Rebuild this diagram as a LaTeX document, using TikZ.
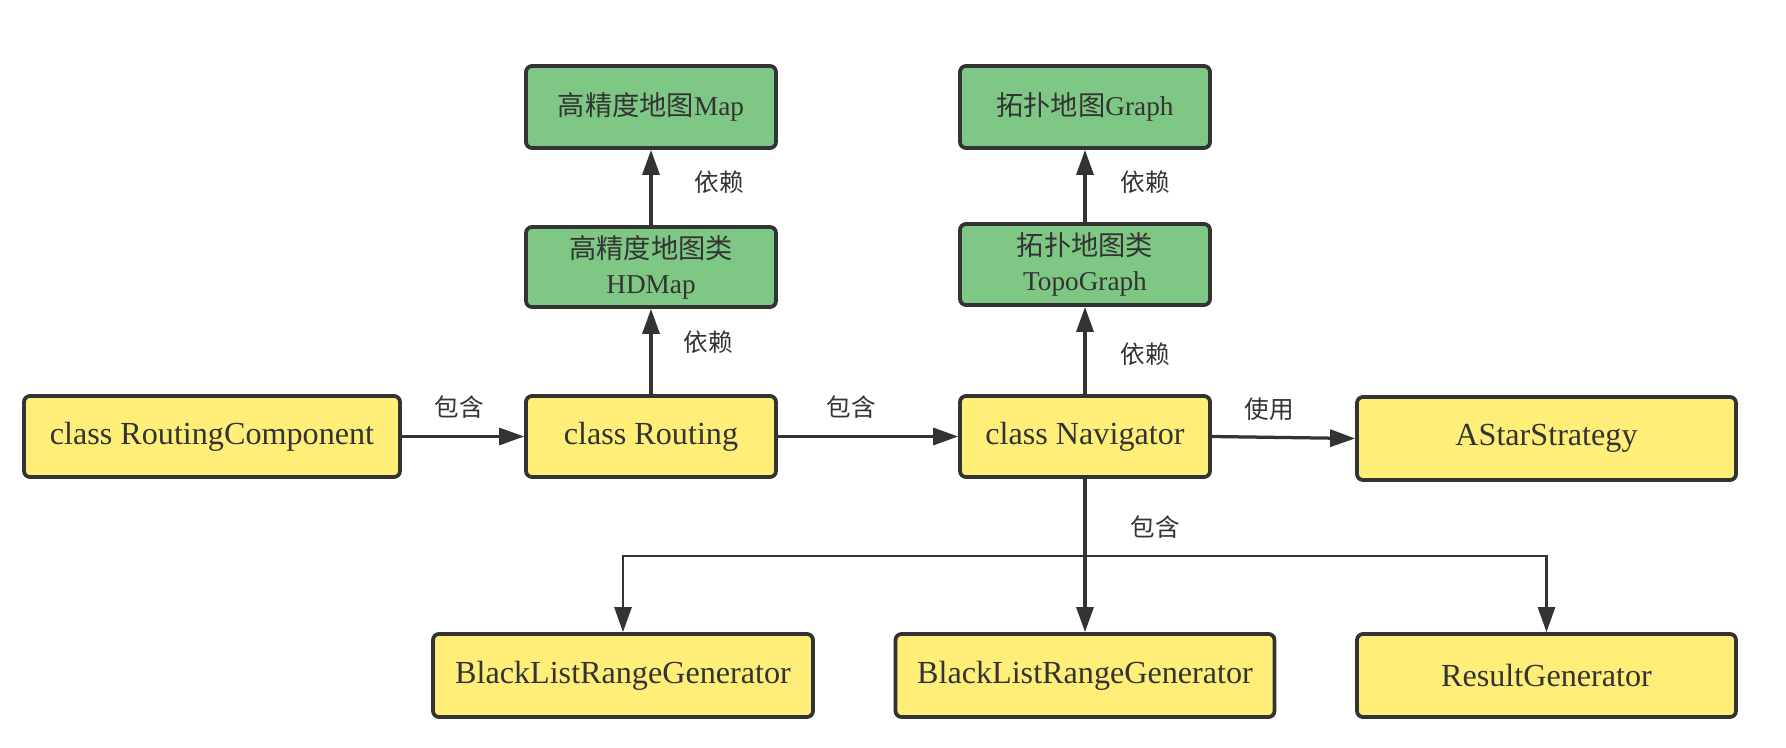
\documentclass[tikz,border=0pt]{standalone}
\usepackage{fontspec}
\setmainfont{Liberation Serif}
\newfontfamily\cjk{Noto Sans CJK SC}
\usetikzlibrary{arrows.meta}
\definecolor{boxline}{HTML}{333333}
\definecolor{classfill}{HTML}{FFEF78}
\definecolor{mapfill}{HTML}{7EC784}
\begin{document}
\begin{tikzpicture}[
  classbox/.style={draw=boxline, line width=0.075cm, rounded corners=0.12cm, fill=classfill, text=boxline, inner sep=0pt, minimum height=1.62cm, font=\fontsize{18.3}{22}\selectfont},
  mapbox/.style={classbox, fill=mapfill, align=center, minimum width=5cm, font=\fontsize{15.5}{20}\selectfont},
  link/.style={draw=boxline, line width=0.065cm, -{Triangle[length=0.5cm,width=0.34cm]}},
  tag/.style={text=boxline, font=\cjk\fontsize{14}{16}\selectfont}
]
\useasboundingbox (0,0) rectangle (35.72,14.94);

\node[classbox, minimum width=7.52cm] (comp) at (4.24,6.21) {class RoutingComponent};
\node[classbox, minimum width=5cm] (routing) at (13.02,6.21) {class Routing};
\node[classbox, minimum width=5cm] (nav) at (21.70,6.21) {class Navigator};
\node[classbox, minimum width=7.58cm, minimum height=1.66cm] (astar) at (30.93,6.17) {AStarStrategy};

\node[mapbox, minimum height=1.64cm] (map) at (13.02,12.80) {{\cjk 高精度地图}Map};
\node[mapbox, minimum height=1.6cm] (hdmap) at (13.02,9.60) {{\cjk 高精度地图类}\\HDMap};
\node[mapbox, minimum height=1.64cm] (graph) at (21.70,12.80) {{\cjk 拓扑地图}Graph};
\node[mapbox, minimum height=1.62cm] (topo) at (21.70,9.65) {{\cjk 拓扑地图类}\\TopoGraph};

\node[classbox, minimum width=7.6cm, minimum height=1.66cm] (bl1) at (12.46,1.43) {BlackListRangeGenerator};
\node[classbox, minimum width=7.58cm, minimum height=1.66cm] (bl2) at (21.70,1.43) {BlackListRangeGenerator};
\node[classbox, minimum width=7.58cm, minimum height=1.66cm] (result) at (30.93,1.43) {ResultGenerator};

\draw[link] (comp.east) -- (routing.west);
\draw[link] (routing.east) -- (nav.west);
\draw[link] (nav.east) -- (astar.west);
\draw[link] (routing.north) -- (hdmap.south);
\draw[link] (hdmap.north) -- (map.south);
\draw[link] (nav.north) -- (topo.south);
\draw[link] (topo.north) -- (graph.south);

\coordinate (bus) at (21.70,3.82);
\draw[link] (nav.south) -- (bl2.north);
\draw[link, line width=0.055cm] (bus) -| (bl1.north);
\draw[link, line width=0.055cm] (bus) -| (result.north);

\node[tag] (t1) at (9.18,6.80) {包含};
\node[tag] (t2) at (17.02,6.80) {包含};
\node[tag] (t3) at (25.38,6.76) {使用};
\node[tag] (t4) at (23.10,4.40) {包含};
\node[tag] (t5) at (14.38,11.30) {依赖};
\node[tag] (t6) at (14.16,8.10) {依赖};
\node[tag] (t7) at (22.90,11.30) {依赖};
\node[tag] (t8) at (22.90,7.86) {依赖};

\end{tikzpicture}
\end{document}
